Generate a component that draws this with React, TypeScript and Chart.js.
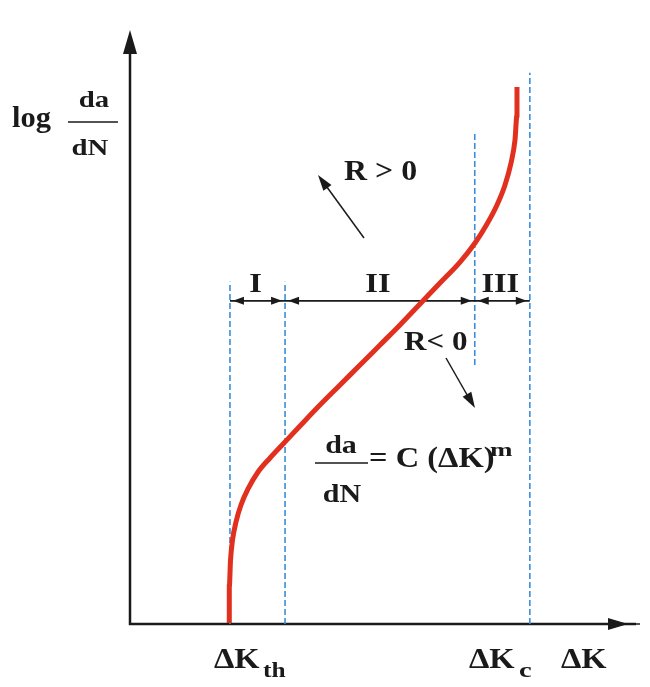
import React, { useEffect, useRef } from "react";
import { Chart, registerables } from "chart.js";

Chart.register(...registerables);

// Schematic crack-growth curve: log(da/dN) vs ΔK (arbitrary units)
const curveDK = [1.947, 1.947, 1.971, 2.01, 2.078, 2.176, 2.314, 2.51, 2.745, 3.02, 3.333, 3.667, 4.118, 4.51, 4.902, 5.294, 5.686, 6.078, 6.471, 6.765, 7.0, 7.196, 7.353, 7.471, 7.549, 7.588, 7.588];
const curveLogRate = [0.017, 0.623, 1.077, 1.414, 1.717, 2.003, 2.273, 2.559, 2.795, 3.047, 3.333, 3.636, 4.024, 4.36, 4.697, 5.034, 5.387, 5.741, 6.094, 6.414, 6.734, 7.054, 7.391, 7.761, 8.148, 8.569, 9.04];

// Region boundaries (ΔK) and the extent of each dashed guide
const boundaryDK = [1.96, 3.04, 6.76, 7.84];
const boundaryBottom = [0, 0, 4.36, 0];
const boundaryTop = [5.76, 5.76, 8.28, 9.28];
const regionLabels = ["I", "II", "III"];
const regionLevel = 5.44;

const RED = "#e2301f";
const BLUE = "#3b8fd9";
const INK = "#1a1a1a";
const FONT = '"Liberation Serif", "DejaVu Serif", serif';

function drawText(ctx: CanvasRenderingContext2D, text: string, x: number, y: number, size: number, sx = 1.15, align: CanvasTextAlign = "left") {
  ctx.save();
  ctx.translate(x, y);
  ctx.scale(sx, 1);
  ctx.font = `bold ${size}px ${FONT}`;
  ctx.textAlign = align;
  ctx.textBaseline = "alphabetic";
  ctx.fillStyle = INK;
  ctx.fillText(text, 0, 0);
  ctx.restore();
}

function arrowHead(ctx: CanvasRenderingContext2D, tx: number, ty: number, fx: number, fy: number, len: number, half: number) {
  const a = Math.atan2(ty - fy, tx - fx);
  ctx.save();
  ctx.translate(tx, ty);
  ctx.rotate(a);
  ctx.beginPath();
  ctx.moveTo(0, 0);
  ctx.lineTo(-len, -half);
  ctx.lineTo(-len, half);
  ctx.closePath();
  ctx.fillStyle = INK;
  ctx.fill();
  ctx.restore();
}

const overlay = {
  id: "overlay",
  beforeDatasetsDraw(chart: any) {
    const ctx = chart.ctx as CanvasRenderingContext2D;
    const xs = chart.scales.x;
    const ys = chart.scales.y;
    const px = (v: number) => xs.getPixelForValue(v);
    const py = (v: number) => ys.getPixelForValue(v);
    const x0 = px(0), y0 = py(0);
    ctx.save();
    ctx.strokeStyle = INK;
    ctx.lineWidth = 2.5;
    ctx.beginPath();
    ctx.moveTo(x0, py(10) + 8);
    ctx.lineTo(x0, y0);
    ctx.lineTo(px(10) - 4, y0);
    ctx.stroke();
    arrowHead(ctx, x0, py(10), x0, y0, 24, 7);
    arrowHead(ctx, px(10) - 12, y0, x0, y0, 20, 6);
    ctx.lineWidth = 1.5;
    ctx.beginPath();
    ctx.moveTo(px(10) - 20, y0);
    ctx.lineTo(px(10), y0);
    ctx.stroke();
    ctx.restore();
  },
  afterDatasetsDraw(chart: any) {
    const ctx = chart.ctx as CanvasRenderingContext2D;
    const xs = chart.scales.x;
    const ys = chart.scales.y;
    const px = (v: number) => xs.getPixelForValue(v);
    const py = (v: number) => ys.getPixelForValue(v);
    const yl = py(regionLevel);

    // dimension arrows between boundaries
    for (let i = 0; i < boundaryDK.length - 1; i++) {
      const a = px(boundaryDK[i]);
      const b = px(boundaryDK[i + 1]);
      arrowHead(ctx, a + 3, yl, a + 14, yl, 11, 4);
      arrowHead(ctx, b - 3, yl, b - 14, yl, 11, 4);
      const mid = (a + b) / 2;
      drawText(ctx, regionLabels[i], mid - 2, yl - 9, 27, 1.2, "center");
    }

    // y label: log da/dN
    drawText(ctx, "log", 12, 127, 29, 1.05);
    drawText(ctx, "da", 94, 107, 24, 1.2, "center");
    drawText(ctx, "dN", 90, 155, 24, 1.2, "center");
    ctx.save();
    ctx.strokeStyle = INK;
    ctx.lineWidth = 1.5;
    ctx.beginPath();
    ctx.moveTo(68, 122);
    ctx.lineTo(118, 122);
    ctx.stroke();
    ctx.restore();

    // Paris law
    drawText(ctx, "da", 341, 453, 25, 1.2, "center");
    drawText(ctx, "dN", 342, 502, 25, 1.2, "center");
    ctx.save();
    ctx.strokeStyle = INK;
    ctx.lineWidth = 1.5;
    ctx.beginPath();
    ctx.moveTo(315, 463);
    ctx.lineTo(368, 463);
    ctx.stroke();
    ctx.restore();
    drawText(ctx, "= C (ΔK)", 369, 467, 29, 1.12);
    drawText(ctx, "m", 490, 456, 18, 1.5);

    // R > 0, R < 0
    drawText(ctx, "R > 0", 344, 180, 29, 1.1);
    ctx.save();
    ctx.strokeStyle = INK;
    ctx.lineWidth = 1.5;
    ctx.beginPath();
    ctx.moveTo(364, 238);
    ctx.lineTo(324, 183);
    ctx.stroke();
    ctx.beginPath();
    ctx.moveTo(446, 358);
    ctx.lineTo(470, 400);
    ctx.stroke();
    ctx.restore();
    arrowHead(ctx, 318, 175, 364, 238, 16, 5);
    drawText(ctx, "R< 0", 404, 350, 27, 1.15);
    arrowHead(ctx, 475, 408, 446, 358, 16, 5);

    // bottom labels
    drawText(ctx, "ΔK", 214, 668, 29, 1.12);
    drawText(ctx, "th", 263, 677, 22, 1.15);
    drawText(ctx, "ΔK", 469, 668, 29, 1.12);
    drawText(ctx, "c", 519, 677, 22, 1.3);
    drawText(ctx, "ΔK", 561, 668, 29, 1.12);
  },
};

export default function App() {
  const ref = useRef<HTMLCanvasElement | null>(null);
  useEffect(() => {
    document.body.style.margin = "0";
    const boundaryDatasets = boundaryDK.map((x, i) => ({
      data: [
        { x, y: boundaryBottom[i] },
        { x, y: boundaryTop[i] },
      ],
      showLine: true,
      borderColor: BLUE,
      borderWidth: 1.6,
      borderDash: [6, 3],
      pointRadius: 0,
      order: 3,
    }));
    const chart = new Chart(ref.current as HTMLCanvasElement, {
      type: "scatter",
      data: {
        datasets: [
          {
            data: curveDK.map((x, i) => ({ x, y: curveLogRate[i] })),
            showLine: true,
            borderColor: RED,
            borderWidth: 5,
            cubicInterpolationMode: "monotone",
            pointRadius: 0,
            order: 1,
          } as any,
          {
            data: [
              { x: boundaryDK[0], y: regionLevel },
              { x: boundaryDK[boundaryDK.length - 1], y: regionLevel },
            ],
            showLine: true,
            borderColor: INK,
            borderWidth: 1.8,
            pointRadius: 0,
            order: 2,
          },
          ...boundaryDatasets,
        ],
      },
      options: {
        animation: false,
        responsive: false,
        maintainAspectRatio: false,
        layout: { padding: { left: 130, right: 10, top: 30, bottom: 63 } },
        plugins: { legend: { display: false }, tooltip: { enabled: false } },
        scales: {
          x: { type: "linear", min: 0, max: 10, display: false },
          y: { type: "linear", min: 0, max: 10, display: false },
        },
      },
      plugins: [overlay],
    });
    return () => chart.destroy();
  }, []);
  return (
    <div style={{ width: 650, height: 687, background: "#fff" }}>
      <canvas ref={ref} width={650} height={687} style={{ display: "block" }} />
    </div>
  );
}
